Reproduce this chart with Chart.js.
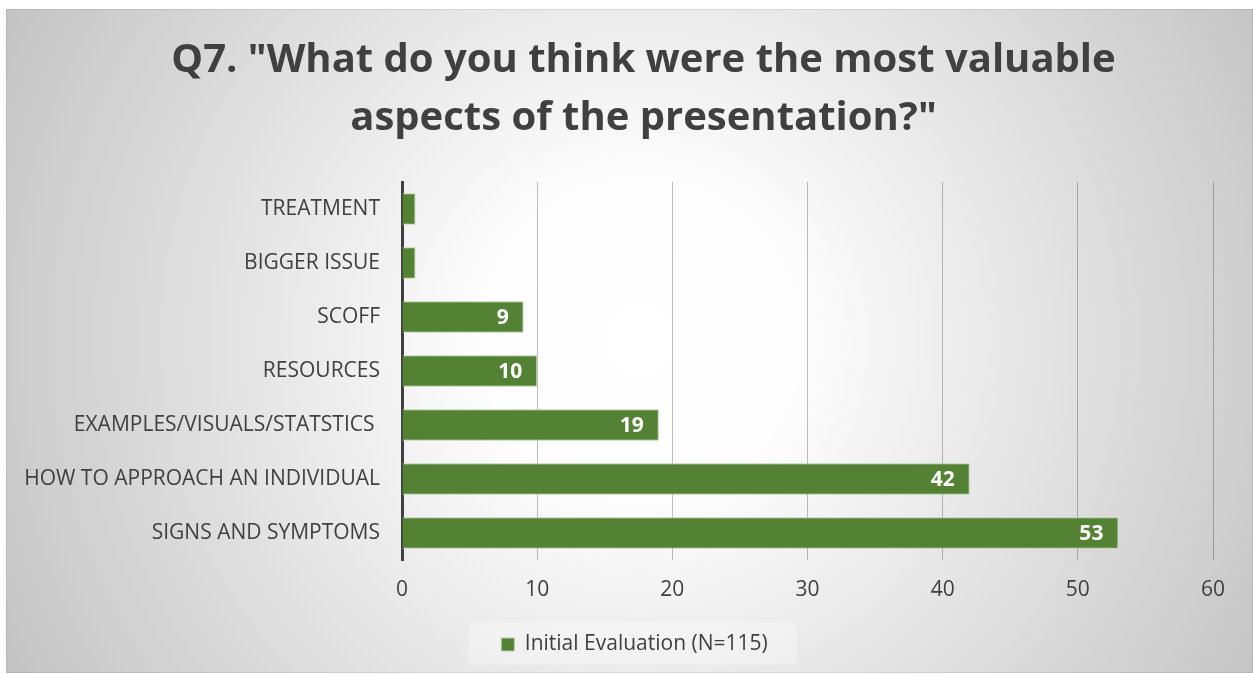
<!DOCTYPE html>
<html>
<head>
<meta charset="utf-8">
<script src="https://cdn.jsdelivr.net/npm/chart.js@4.4.1/dist/chart.umd.min.js"></script>
<style>
  html, body { margin: 0; padding: 0; background: #ffffff; }
  #wrap { position: relative; width: 1253px; height: 674px; }
</style>
</head>
<body>
<div id="wrap"><canvas id="c" width="1253" height="674"></canvas></div>
<script>
// ---- data ----
const categories = [
  "TREATMENT",
  "BIGGER ISSUE",
  "SCOFF",
  "RESOURCES",
  "EXAMPLES/VISUALS/STATSTICS ",
  "HOW TO APPROACH AN INDIVIDUAL",
  "SIGNS AND SYMPTOMS"
];
const seriesName = "Initial Evaluation (N=115)";
const seriesValues = [1, 1, 9, 10, 19, 42, 53];
const xTicks = [0, 10, 20, 30, 40, 50, 60];
const titleLines = ['Q7. "What do you think were the most valuable', 'aspects of the presentation?"'];

const FONT = "'Open Sans', 'DejaVu Sans', sans-serif";
const TEXT = '#404040';
const GREEN = '#548235';

const PAD_L = 6, PAD_R = 40, AXIS_X = 402;

const backgroundPlugin = {
  id: 'panelBg',
  beforeDraw(chart) {
    const ctx = chart.ctx;
    const W = chart.width, H = chart.height;
    ctx.save();
    ctx.fillStyle = '#ffffff';
    ctx.fillRect(0, 0, W, H);
    const x0 = 6, y0 = 9, x1 = W, y1 = 673;
    const g = ctx.createRadialGradient(640, 340, 0, 640, 340, 730);
    g.addColorStop(0, '#ffffff');
    g.addColorStop(0.22, '#fdfdfd');
    g.addColorStop(1, '#c2c2c2');
    ctx.fillStyle = g;
    ctx.fillRect(x0, y0, x1 - x0, y1 - y0);
    ctx.strokeStyle = 'rgba(0,0,0,0.08)';
    ctx.lineWidth = 1;
    ctx.strokeRect(x0 + 0.5, y0 + 0.5, x1 - x0 - 1, y1 - y0 - 1);
    const lg = chart.legend;
    if (lg && lg.legendHitBoxes && lg.legendHitBoxes.length) {
      const hb = lg.legendHitBoxes[0];
      const cx = hb.left + hb.width / 2;
      const cy = hb.top + hb.height / 2;
      ctx.fillStyle = 'rgba(255,255,255,0.3)';
      ctx.fillRect(cx - 166, cy - 22, 328, 42);
    }
    ctx.restore();
  }
};

// shift the full-width title and legend boxes so they sit where the original places them
const centerPlugin = {
  id: 'centerShift',
  afterLayout(chart) {
    const t = chart.titleBlock;
    if (t) { t.left += 34; t.right += 34; }
    const lg = chart.legend;
    if (lg) { lg.left += 25; lg.right += 25; }
  }
};

const valueLabelPlugin = {
  id: 'valueLabels',
  afterDatasetsDraw(chart) {
    const ctx = chart.ctx;
    const meta = chart.getDatasetMeta(0);
    const ds = chart.data.datasets[0];
    ctx.save();
    ctx.font = "bold 21px " + FONT;
    ctx.fillStyle = '#ffffff';
    ctx.textAlign = 'right';
    ctx.textBaseline = 'middle';
    meta.data.forEach((bar, i) => {
      const txt = String(ds.data[i]);
      const w = ctx.measureText(txt).width;
      if (bar.x - bar.base > w + 30) {
        ctx.fillText(txt, bar.x - 15, bar.y + 1);
      }
    });
    ctx.restore();
  }
};

new Chart(document.getElementById('c'), {
  type: 'bar',
  data: {
    labels: categories,
    datasets: [{
      label: seriesName,
      data: seriesValues,
      backgroundColor: GREEN,
      borderColor: '#b4cda5',
      borderWidth: 1,
      barPercentage: 0.58,
      categoryPercentage: 1.0
    }]
  },
  options: {
    indexAxis: 'y',
    responsive: false,
    animation: false,
    devicePixelRatio: 1,
    layout: { padding: { left: PAD_L, right: PAD_R, top: 0, bottom: 9 } },
    plugins: {
      title: {
        display: true,
        text: titleLines,
        color: TEXT,
        font: { family: FONT, size: 40, weight: 'bold', lineHeight: 1.45 },
        padding: { top: 32, bottom: 34 }
      },
      legend: {
        position: 'bottom',
        labels: {
          color: TEXT,
          font: { family: FONT, size: 21 },
          boxWidth: 13,
          boxHeight: 13,
          padding: 32
        }
      },
      tooltip: { enabled: false }
    },
    scales: {
      x: {
        min: 0,
        max: 60,
        afterBuildTicks(scale) { scale.ticks = xTicks.map(v => ({ value: v })); },
        afterFit(scale) { scale.height = 42; },
        ticks: {
          color: TEXT,
          font: { family: FONT, size: 21 },
          padding: 17
        },
        grid: { color: 'rgba(0,0,0,0.25)', lineWidth: 1, drawTicks: false },
        border: { display: false }
      },
      y: {
        afterFit(scale) { scale.width = AXIS_X - PAD_L; },
        ticks: {
          color: TEXT,
          font: { family: FONT, size: 21 },
          padding: 22
        },
        grid: { display: false, drawTicks: false },
        border: { display: true, color: '#404040', width: 3 }
      }
    }
  },
  plugins: [backgroundPlugin, centerPlugin, valueLabelPlugin]
});
</script>
</body>
</html>
